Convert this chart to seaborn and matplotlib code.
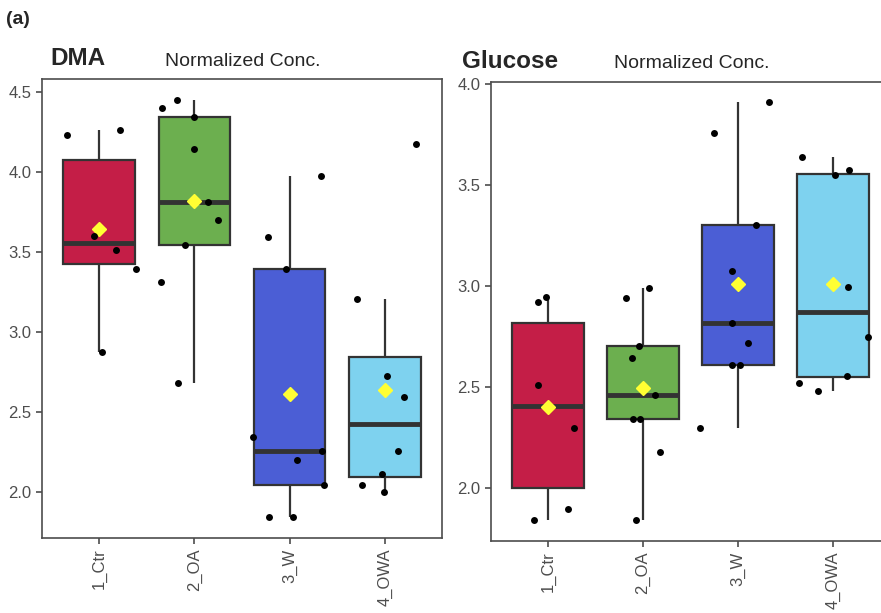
import numpy as np
import pandas as pd
import matplotlib
matplotlib.use('Agg')
import matplotlib.pyplot as plt
import seaborn as sns

# groups on the x axis
groups = ['1_Ctr', '2_OA', '3_W', '4_OWA']
group_colors = ['#C41E47', '#6CAF4F', '#4B5ED5', '#7ED2EF']

# normalized concentrations, one list per group
dma_ctr = [4.23, 4.26, 3.60, 3.51, 3.39, 2.875]
dma_oa = [4.34, 4.40, 4.45, 4.14, 3.81, 3.70, 3.54, 3.31, 2.68]
dma_w = [3.975, 3.59, 3.39, 2.256, 2.34, 2.20, 2.04, 1.84, 1.84]
dma_owa = [4.17, 3.205, 2.72, 2.59, 2.256, 2.11, 2.04, 2.00]

glc_ctr = [2.92, 2.945, 2.51, 2.30, 1.90, 1.845]
glc_oa = [2.99, 2.94, 2.705, 2.647, 2.46, 2.345, 2.345, 2.18, 1.845]
glc_w = [3.91, 3.757, 3.30, 3.075, 2.82, 2.72, 2.61, 2.61, 2.30]
glc_owa = [3.64, 3.575, 3.55, 2.998, 2.75, 2.558, 2.52, 2.48]

dma_ticks = [2.0, 2.5, 3.0, 3.5, 4.0, 4.5]
glc_ticks = [2.0, 2.5, 3.0, 3.5, 4.0]


def make_frame(values):
    rows = []
    for g, vals in zip(groups, values):
        for v in vals:
            rows.append({'group': g, 'conc': v})
    return pd.DataFrame(rows)


dma_df = make_frame([dma_ctr, dma_oa, dma_w, dma_owa])
glc_df = make_frame([glc_ctr, glc_oa, glc_w, glc_owa])

sns.set_style('ticks')
plt.rcParams['font.family'] = ['Liberation Sans', 'DejaVu Sans']

np.random.seed(7)

fig = plt.figure(figsize=(8.81, 6.13), dpi=100)
ax1 = fig.add_axes([0.0477, 0.1223, 0.454, 0.749])
ax2 = fig.add_axes([0.5573, 0.1175, 0.4529, 0.749])

edge = '#333333'


def draw_panel(ax, df, ticks, ylim):
    sns.boxplot(data=df, x='group', y='conc', hue='group', order=groups,
                palette=group_colors, saturation=1, width=0.75, legend=False,
                linecolor=edge, linewidth=1.6, showfliers=False, showcaps=False,
                showmeans=True,
                meanprops=dict(marker='D', markerfacecolor='#FFFF33',
                               markeredgecolor='#FFFF33', markersize=7),
                medianprops=dict(color=edge, linewidth=3.5),
                ax=ax)
    sns.stripplot(data=df, x='group', y='conc', order=groups, color='black',
                  jitter=0.4, size=5, ax=ax)
    ax.set_xlim(-0.6, 3.6)
    ax.set_ylim(*ylim)
    ax.set_yticks(ticks)
    ax.set_yticklabels([f'{t:.1f}' for t in ticks])
    ax.set_xlabel('')
    ax.set_ylabel('')
    ax.tick_params(axis='x', labelrotation=90)
    ax.tick_params(colors='#4D4D4D', labelsize=12, length=4, width=1.2)
    for s in ax.spines.values():
        s.set_color('#4D4D4D')
        s.set_linewidth(1.2)


draw_panel(ax1, dma_df, dma_ticks, (1.71, 4.58))
draw_panel(ax2, glc_df, glc_ticks, (1.74, 4.01))

fig.text(6 / 881, 1 - 24 / 613, '(a)', fontsize=14, fontweight='bold', va='baseline')
fig.text(50 / 881, 1 - 65 / 613, 'DMA', fontsize=17.5, fontweight='bold', va='baseline')
fig.text(165 / 881, 1 - 66 / 613, 'Normalized Conc.', fontsize=14, va='baseline')
fig.text(462 / 881, 1 - 68 / 613, 'Glucose', fontsize=17.5, fontweight='bold', va='baseline')
fig.text(614 / 881, 1 - 68 / 613, 'Normalized Conc.', fontsize=14, va='baseline')

fig.savefig('out.png', dpi=100)
